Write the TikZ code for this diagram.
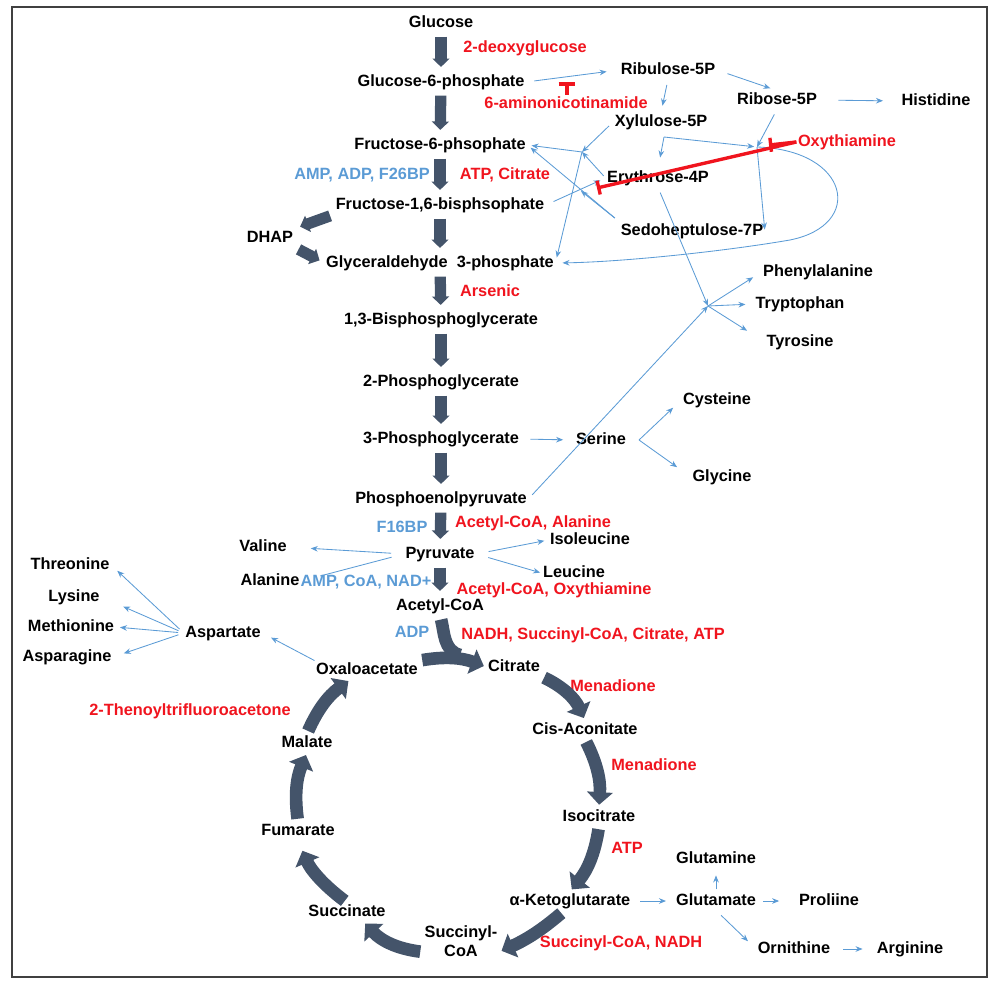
\documentclass[tikz,border=0pt]{standalone}
\usepackage{fontspec}
\setmainfont{Liberation Sans}
\usepackage{tikz}
\usetikzlibrary{arrows.meta}

\definecolor{flowgray}{RGB}{68,84,106}
\definecolor{actblue}{RGB}{91,155,213}
\definecolor{inhred}{RGB}{240,20,30}

\begin{document}
\begin{tikzpicture}[x=0.025cm, y=0.025cm,
    metab/.style={font=\bfseries\fontsize{11.6}{13}\selectfont, inner sep=1pt, text height=8.5pt, text depth=2.5pt},
    actr/.style={metab, text=actblue},
    inhr/.style={metab, text=inhred},
    flow/.style={flowgray, line width=8pt, shorten <=3pt, shorten >=4pt, -{Triangle[length=6pt,width=12pt]}},
    cyc/.style={flowgray, line width=9pt, shorten <=2pt, shorten >=2pt, -{Triangle[length=9pt,width=18pt]}},
    link/.style={actblue, line width=0.6pt, shorten <=4pt, shorten >=5pt, -{Stealth[length=5pt,width=4pt]}},
    block/.style={inhred, line width=2.4pt, -{Bar[width=10pt]}}]
    \useasboundingbox (0,0) rectangle (1008,-991);
    \draw[black!75, line width=1.3pt] (12,-7) rectangle (987,-977);

    \node[metab] (glc) at (441,-23) {Glucose};
    \node[metab] (g6p) at (441,-82) {Glucose-6-phosphate};
    \node[metab] (f6p) at (440,-145) {Fructose-6-phsophate};
    \node[metab] (f16bp) at (440,-205) {Fructose-1,6-bisphsophate};
    \node[metab] (dhap) at (270,-238) {DHAP};
    \node[metab] (gap) at (440,-263) {Glyceraldehyde\ \ 3-phosphate};
    \node[metab] (bpg) at (441,-320) {1,3-Bisphosphoglycerate};
    \node[metab] (pgb) at (441,-382) {2-Phosphoglycerate};
    \node[metab] (pga) at (441,-439) {3-Phosphoglycerate};
    \node[metab] (pep) at (441,-499) {Phosphoenolpyruvate};
    \node[metab] (pyr) at (440,-554) {Pyruvate};
    \node[metab] (accoa) at (440,-606) {Acetyl-CoA};

    \node[metab] (ru5p) at (668,-70) {Ribulose-5P};
    \node[metab] (r5p) at (777,-100) {Ribose-5P};
    \node[metab] (his) at (936,-101) {Histidine};
    \node[metab] (xu5p) at (661,-122) {Xylulose-5P};
    \node[metab] (e4p) at (658,-178) {Erythrose-4P};
    \node[metab] (s7p) at (692,-231) {Sedoheptulose-7P};
    \node[metab] (phe) at (818,-272) {Phenylalanine};
    \node[metab] (trp) at (800,-304) {Tryptophan};
    \node[metab] (tyr) at (800,-342) {Tyrosine};
    \node[metab] (cys) at (717,-400) {Cysteine};
    \node[metab] (ser) at (601,-440) {Serine};
    \node[metab] (gly) at (722,-477) {Glycine};
    \node[metab] (val) at (263,-547) {Valine};
    \node[metab] (ala) at (270,-581) {Alanine};
    \node[metab] (ile) at (590,-540) {Isoleucine};
    \node[metab] (leu) at (574,-573) {Leucine};
    \node[metab] (thr) at (70,-565) {Threonine};
    \node[metab] (lys) at (74,-597) {Lysine};
    \node[metab] (meth) at (71,-627) {Methionine};
    \node[metab] (asn) at (67,-657) {Asparagine};
    \node[metab] (asp) at (223,-633) {Aspartate};

    \node[metab] (oaa) at (367,-670) {Oxaloacetate};
    \node[metab] (cit) at (514,-667) {Citrate};
    \node[metab] (cisaco) at (585,-730) {Cis-Aconitate};
    \node[metab] (icit) at (599,-817) {Isocitrate};
    \node[metab] (akg) at (570,-901) {α-Ketoglutarate};
    \node[metab, align=center] (succoa) at (461,-952) {Succinyl-\\CoA};
    \node[metab] (suc) at (347,-912) {Succinate};
    \node[metab] (fum) at (298,-831) {Fumarate};
    \node[metab] (mal) at (307,-743) {Malate};
    \node[metab] (gln) at (716,-859) {Glutamine};
    \node[metab] (glu) at (716,-901) {Glutamate};
    \node[metab] (pro) at (829,-901) {Proliine};
    \node[metab] (orn) at (794,-949) {Ornithine};
    \node[metab] (arg) at (910,-949) {Arginine};

    \node[inhr] (dg) at (525,-48) {2-deoxyglucose};
    \node[inhr] (ami) at (566,-104) {6-aminonicotinamide};
    \node[inhr] (oxy) at (847,-142) {Oxythiamine};
    \node[actr] (pfkact) at (362,-175) {AMP, ADP, F26BP};
    \node[inhr] (pfkinh) at (505,-175) {ATP, Citrate};
    \node[inhr] (ars) at (490,-292) {Arsenic};
    \node[actr] (pkact) at (402,-528) {F16BP};
    \node[inhr] (pkinh) at (533,-523) {Acetyl-CoA, Alanine};
    \node[actr] (pdhact) at (366,-582) {AMP, CoA, NAD+};
    \node[inhr] (pdhinh) at (554,-590) {Acetyl-CoA, Oxythiamine};
    \node[actr] (csact) at (412,-633) {ADP};
    \node[inhr] (csinh) at (593,-635) {NADH, Succinyl-CoA, Citrate, ATP};
    \node[inhr] (acoinh) at (613,-687) {Menadione};
    \node[inhr] (ttfa) at (190,-711) {2-Thenoyltrifluoroacetone};
    \node[inhr] (acoinhb) at (654,-766) {Menadione};
    \node[inhr] (idhinh) at (627,-849) {ATP};
    \node[inhr] (kgdinh) at (621,-943) {Succinyl-CoA, NADH};

    \coordinate (tk1) at (757,-147);
    \coordinate (tk2) at (582,-152);
    \coordinate (ta) at (581,-191);
    \coordinate (xuf) at (664,-137);
    \coordinate (aro) at (708,-306);
    \coordinate (serf) at (639,-440);
    \coordinate (cjoin) at (460,-655);
    \coordinate (g6pblk) at (567,-82);
    \coordinate (tk1blk) at (769,-145);
    \coordinate (tkblk) at (597,-188);

    \draw[flow] (glc) -- (g6p);
    \draw[flow] (g6p) -- (f6p);
    \draw[flow] (f6p) -- (f16bp);
    \draw[flow] (f16bp) -- (gap);
    \draw[flow] (gap) -- (bpg);
    \draw[flow] (bpg) -- (pgb);
    \draw[flow] (pgb) -- (pga);
    \draw[flow] (pga) -- (pep);
    \draw[flow] (pep) -- (pyr);
    \draw[flow] (pyr) -- (accoa);
    \draw[flow] (f16bp.south west) -- (dhap.north east);
    \draw[flow] (dhap.south east) -- (gap.west);

    \draw[flowgray, line width=9pt, shorten <=3pt] (accoa.south) to[out=-75, in=165] (cjoin);
    \draw[cyc] (oaa.north east) to[bend left=15] (cit.west);
    \draw[cyc] (cit.south east) to[bend left=20] (cisaco.north);
    \draw[cyc] (cisaco.south) to[bend left=15] (icit.north);
    \draw[cyc] (icit.south) to[bend left=15] (akg.north);
    \draw[cyc, shorten <=3pt] (akg.-120) to[bend left=8] (succoa.east);
    \draw[cyc] (succoa.west) to[bend left=20] (suc.-30);
    \draw[cyc, shorten >=8pt] (suc.north) to[bend left=15] (fum.south);
    \draw[cyc] (fum.north) to[bend left=15] (mal.south);
    \draw[cyc] (mal.north) to[bend left=15] (oaa.-150);

    \draw[link, shorten <=6pt, shorten >=9pt] (g6p.east) -- (ru5p.west);
    \draw[link] (ru5p.south) -- (xu5p.north);
    \draw[link, shorten <=8pt] (ru5p.east) -- (r5p.north);
    \draw[link, shorten <=14pt, shorten >=12pt] (r5p.east) -- (his.west);
    \draw[link, shorten >=0pt] (r5p.south) -- (tk1);
    \draw[link, shorten <=0pt, shorten >=2pt] (xuf) -- (tk1);
    \draw[link, shorten <=0pt, shorten >=8pt] (xuf) -- (e4p.north);
    \draw[link, shorten <=0pt, shorten >=1pt] (tk1) -- (s7p.east);
    \draw[link, shorten <=0pt] (tk1) .. controls (850,-150) and (865,-225) .. (790,-240)
        .. controls (720,-252) and (620,-262) .. (gap.east);
    \draw[link, shorten >=0pt] (xu5p.west) -- (tk2);
    \draw[link, shorten <=0pt, shorten >=3pt] (tk2) -- (f6p.east);
    \draw[link, shorten <=0pt, shorten >=4pt] (tk2) -- (gap.east);
    \draw[link, shorten <=2pt, shorten >=0pt] (e4p.west) -- (tk2);
    \draw[link, shorten <=6pt, shorten >=4pt] (f16bp.east) -- (e4p.west);
    \draw[link, shorten >=0pt] (s7p.north west) -- (ta);
    \draw[link, shorten >=3pt] (s7p.north west) -- (f6p.east);

    \draw[block] (oxy.west) -- (tk1blk);
    \draw[block] (oxy.west) -- (tkblk);
    \draw[block, line width=3pt, -{Bar[width=12pt]}] (ami.north -| g6pblk) -- (g6pblk);

    \draw[link, shorten <=7pt, shorten >=8pt] (pga.east) -- (ser.west);
    \draw[link, shorten <=0pt, shorten >=8pt] (serf) -- (cys.west);
    \draw[link, shorten <=0pt, shorten >=12pt] (serf) -- (gly.west);
    \draw[link, shorten >=0pt] (pep.east) -- (aro);
    \draw[link, shorten >=0pt] (e4p.south) -- (aro);
    \draw[link, shorten <=0pt, shorten >=7pt] (aro) -- (phe.west);
    \draw[link, shorten <=0pt, shorten >=6pt] (aro) -- (trp.west);
    \draw[link, shorten <=0pt, shorten >=15pt] (aro) -- (tyr.west);

    \draw[link, shorten <=9pt, shorten >=16pt] (pyr.west) -- (val.east);
    \draw[link, -, shorten <=9pt, shorten >=14pt] (pyr.west) -- (ala.east);
    \draw[link, shorten <=9pt, shorten >=3pt] (pyr.east) -- (ile.west);
    \draw[link, shorten <=9pt, shorten >=1pt] (pyr.east) -- (leu.west);
    \draw[link, shorten <=0pt, shorten >=7pt] (oaa.north west) -- (asp.east);
    \draw[link, shorten >=6pt] (asp.west) -- (thr.east);
    \draw[link, shorten >=17pt] (asp.west) -- (lys.east);
    \draw[link, shorten >=3pt] (asp.west) -- (meth.east);
    \draw[link, shorten >=8pt] (asp.west) -- (asn.east);

    \draw[link, shorten <=6pt, shorten >=6pt] (akg.east) -- (glu.west);
    \draw[link, shorten <=1.5pt, shorten >=5pt] (glu.north) -- (gln.south);
    \draw[link, shorten <=4pt, shorten >=13pt] (glu.east) -- (pro.west);
    \draw[link, shorten <=5pt, shorten >=8pt] (glu.south) -- (orn.west);
    \draw[link, shorten <=8pt, shorten >=9pt] (orn.east) -- (arg.west);
\end{tikzpicture}
\end{document}
